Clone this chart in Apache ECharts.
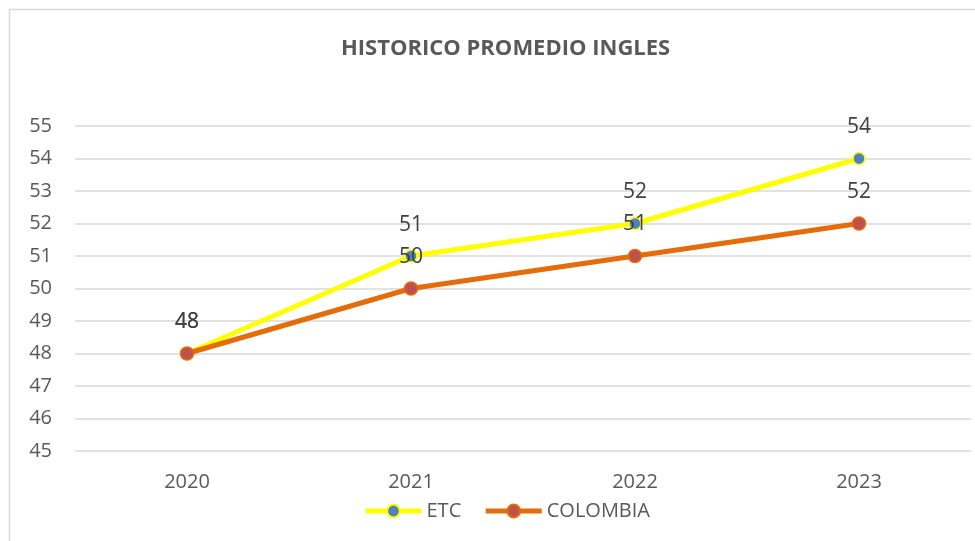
<!DOCTYPE html>
<html>
<head>
<meta charset="utf-8">
<script src="https://cdn.jsdelivr.net/npm/echarts@6/dist/echarts.min.js"></script>
<style>
  html, body { margin: 0; padding: 0; background: #fff; }
  #main { width: 975px; height: 541px; }
</style>
</head>
<body>
<div id="main"></div>
<script>
// datos del grafico
const years = ['2020', '2021', '2022', '2023']
const etc = [48, 51, 52, 54]
const colombia = [48, 50, 51, 52]

const chart = echarts.init(document.getElementById('main'))

const labelStyle = {
  show: true,
  position: 'top',
  distance: 14,
  color: '#404040',
  fontSize: 21,
  fontFamily: 'Open Sans'
}

const option = {
  animation: false,
  textStyle: { fontFamily: 'Open Sans' },
  title: {
    text: 'HISTORICO PROMEDIO INGLES',
    left: 336,
    top: 33,
    textStyle: { fontSize: 22, fontWeight: 'bold', color: '#595959', fontFamily: 'Open Sans' }
  },
  graphic: [{
    type: 'rect',
    shape: { x: 9.5, y: 9.5, width: 980, height: 540 },
    style: { fill: 'none', stroke: '#d9d9d9', lineWidth: 1.5 },
    silent: true
  }],
  grid: { left: 75, right: 4, top: 126, bottom: 90 },
  legend: {
    bottom: 15,
    left: 358,
    itemWidth: 56,
    itemHeight: 16,
    itemGap: 22,
    lineStyle: { width: 5 },
    textStyle: { fontSize: 20, color: '#595959', fontFamily: 'Open Sans' },
    data: ['ETC', 'COLOMBIA']
  },
  xAxis: {
    type: 'category',
    data: years,
    axisLine: { show: false },
    axisTick: { show: false },
    axisLabel: { color: '#595959', fontSize: 20, margin: 21 }
  },
  yAxis: {
    type: 'value',
    min: 45,
    max: 55,
    interval: 1,
    axisLine: { show: false },
    axisTick: { show: false },
    axisLabel: { color: '#595959', fontSize: 20, margin: 23 },
    splitLine: { lineStyle: { color: '#d9d9d9', width: 1.5 } }
  },
  series: [
    {
      name: 'ETC',
      type: 'line',
      data: etc,
      symbol: 'circle',
      symbolSize: 12,
      lineStyle: { color: '#ffff00', width: 5 },
      itemStyle: { color: '#4f81bd', borderColor: '#ffff00', borderWidth: 1.5 },
      label: labelStyle
    },
    {
      name: 'COLOMBIA',
      type: 'line',
      data: colombia,
      symbol: 'circle',
      symbolSize: 13,
      lineStyle: { color: '#e46c0a', width: 5 },
      itemStyle: { color: '#c0504d', borderColor: '#e46c0a', borderWidth: 1.5 },
      label: labelStyle
    }
  ]
}

option && chart.setOption(option)
</script>
</body>
</html>
